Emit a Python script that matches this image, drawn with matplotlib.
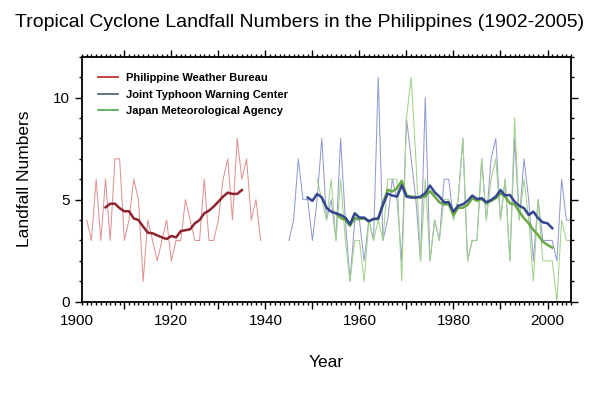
import numpy as np
import matplotlib
matplotlib.use("Agg")
import matplotlib.pyplot as plt
import matplotlib.transforms as mtransforms
from matplotlib.lines import Line2D
from matplotlib.ticker import MultipleLocator

plt.rcParams['font.family'] = ['Liberation Sans', 'DejaVu Sans']

# annual landfall counts
pwb_start = 1902
pwb = [4, 3, 6, 3, 6, 3, 7, 7, 3, 4, 6, 5, 1, 4, 3, 2, 3, 4, 2, 3,
       3, 5, 4, 3, 3, 6, 3, 3, 4, 6, 7, 4, 8, 6, 7, 4, 5, 3]

jtwc_start = 1945
jtwc = [3, 4, 7, 5, 5, 3, 5, 8, 4, 5, 3, 8, 4, 1, 4, 4, 2, 4, 3, 11,
        3, 4, 6, 5, 2, 9, 7, 5, 2, 10, 2, 4, 3, 6, 6, 4, 5, 8, 2, 3,
        3, 7, 4, 7, 8, 4, 6, 2, 8, 4, 7, 5, 2, 5, 3, 3, 3, 2, 6, 4, 4]

jma_start = 1951
jma = [6, 5, 4, 6, 3, 6, 3, 1, 3, 3, 1, 4, 3, 4, 3, 6, 6, 6, 1, 9,
       11, 7, 2, 6, 2, 4, 3, 5, 5, 4, 5, 8, 2, 3, 3, 7, 4, 6, 7, 4,
       6, 2, 9, 4, 6, 4, 1, 5, 2, 2, 2, 0, 4, 3, 3]

# 9-year running means as drawn on the chart
pwb_smooth_start = 1906
pwb_smooth = [4.62, 4.8, 4.8, 4.58, 4.43, 4.43, 4.08, 4.0, 3.68, 3.38,
              3.35, 3.25, 3.15, 3.07, 3.22, 3.15, 3.46, 3.5, 3.55, 3.84,
              4.0, 4.33, 4.46, 4.66, 4.9, 5.15, 5.34, 5.28, 5.28, 5.47]

jtwc_smooth_start = 1949
jtwc_smooth = [5.1, 4.94, 5.28, 5.11, 4.6, 4.41, 4.33, 4.25, 4.12, 3.79,
               4.33, 4.12, 4.12, 3.95, 4.05, 4.08, 4.74, 5.3, 5.2, 5.15,
               5.7, 5.15, 5.1, 5.1, 5.15, 5.31, 5.69, 5.36, 5.15, 4.87,
               4.87, 4.41, 4.7, 4.77, 4.94, 5.2, 5.03, 5.07, 4.87, 4.98,
               5.15, 5.47, 5.2, 5.23, 4.9, 4.7, 4.58, 4.25, 4.41, 4.09,
               3.89, 3.84, 3.6]

jma_smooth_start = 1955
jma_smooth = [4.33, 4.1, 4.0, 3.72, 4.1, 4.05, 4.08, 3.92, 4.05, 4.05,
              4.82, 5.48, 5.4, 5.56, 5.92, 5.2, 5.15, 5.12, 5.1, 5.15,
              5.42, 5.15, 4.87, 4.77, 4.77, 4.25, 4.6, 4.6, 4.74, 5.07,
              4.94, 5.03, 4.82, 4.94, 5.07, 5.31, 5.15, 4.82, 4.77, 4.41,
              4.09, 3.84, 3.51, 3.27, 2.94, 2.78, 2.65]

labels = ["Philippine Weather Bureau", "Joint Typhoon Warning Center",
          "Japan Meteorological Agency"]


def years(start, vals):
    return np.arange(start, start + len(vals))


fig = plt.figure(figsize=(6.0, 3.94), dpi=100)
ax = fig.add_axes([0.1367, 0.2343, 0.815, 0.6217])

# thin annual series
ax.plot(years(pwb_start, pwb), pwb, color='#de9494', lw=0.75)
ax.plot(years(jtwc_start, jtwc), jtwc, color='#939bcf', lw=0.75)
ax.plot(years(jma_start, jma), jma, color='#a2d28c', lw=0.75)

# running means
ax.plot(years(pwb_smooth_start, pwb_smooth), pwb_smooth, color='#8e2430', lw=1.8)
ax.plot(years(jma_smooth_start, jma_smooth), jma_smooth, color='#6aaa44', lw=1.8)
ax.plot(years(jtwc_smooth_start, jtwc_smooth), jtwc_smooth, color='#33468f', lw=1.8)

ax.set_xlim(1901, 2005)
ax.set_ylim(0, 12)

ax.xaxis.set_major_locator(MultipleLocator(10))
ax.xaxis.set_minor_locator(MultipleLocator(1))
ax.yaxis.set_major_locator(MultipleLocator(5))
ax.yaxis.set_minor_locator(MultipleLocator(1))
ax.set_xticklabels([])
ax.tick_params(which='both', direction='out', top=True, right=True,
               width=1.0, colors='black', labelsize=11)
ax.tick_params(which='major', length=5)
ax.tick_params(which='minor', length=2.5)
for s in ax.spines.values():
    s.set_linewidth(1.3)

# x labels every 20 years (1900 sits just left of the frame)
lab_tr = mtransforms.offset_copy(ax.get_xaxis_transform(), fig=fig, y=-9, units='points')
for yr in range(1900, 2001, 20):
    ax.text(yr, 0, str(yr), transform=lab_tr, ha='center', va='top', fontsize=11,
            clip_on=False)

ax.set_ylabel("Landfall Numbers", fontsize=12.5, labelpad=15)
ax.set_xlabel("Year", fontsize=12.5, labelpad=30)
fig.text(0.5, 0.944, "Tropical Cyclone Landfall Numbers in the Philippines (1902-2005)",
         fontsize=14, ha='center', va='center')

handles = [Line2D([], [], color='#c03038', lw=1.3),
           Line2D([], [], color='#5a6482', lw=1.3),
           Line2D([], [], color='#58b058', lw=1.3)]
leg = ax.legend(handles, labels, loc='upper left', bbox_to_anchor=(0.012, 0.975),
                frameon=False, handlelength=1.8, handletextpad=0.7,
                labelspacing=0.6, prop={'size': 8, 'weight': 'bold'})

fig.savefig("out.png", dpi=100)
